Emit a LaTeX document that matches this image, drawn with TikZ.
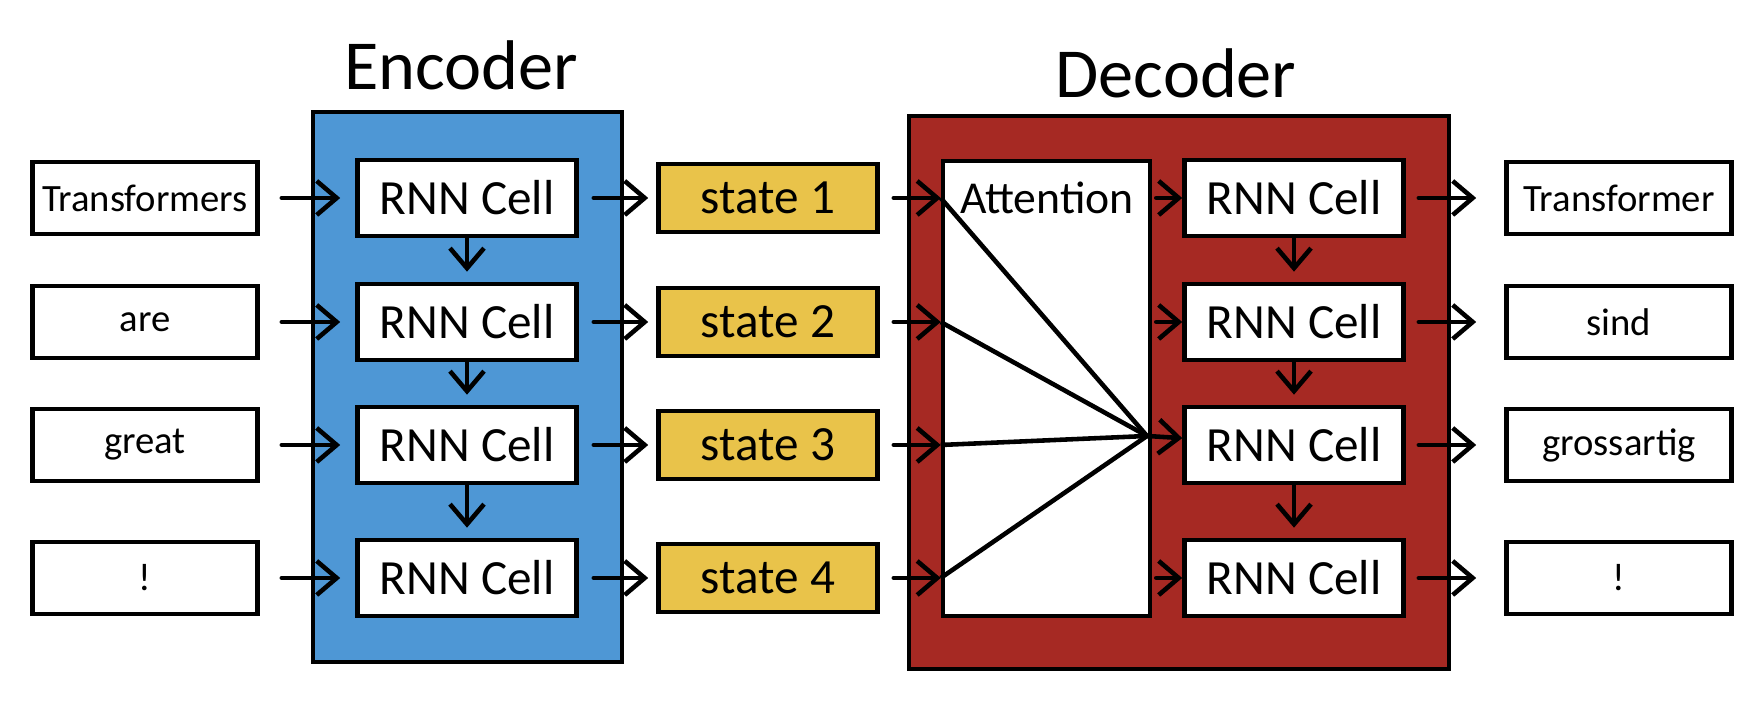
\documentclass[tikz,border=0pt]{standalone}
\usepackage{fontspec}
\setmainfont{Carlito}
\usetikzlibrary{arrows.meta,calc}

\definecolor{encblue}{HTML}{4E97D5}
\definecolor{decred}{HTML}{A62923}
\definecolor{stateyellow}{HTML}{E9C34A}

\begin{document}
\begin{tikzpicture}[line width=1.3pt,
  cell/.style={draw, fill=white, minimum width=2.19cm, minimum height=0.76cm, inner sep=0pt, font=\fontsize{14}{16}\selectfont},
  word/.style={draw, fill=white, minimum width=2.25cm, minimum height=0.72cm, inner sep=0pt, font=\fontsize{11}{13}\selectfont},
  statebox/.style={cell, fill=stateyellow, minimum height=0.68cm},
  title/.style={font=\fontsize{20}{24}\selectfont},
  arr/.style={-{Straight Barb[length=2mm,width=3.4mm]}, line cap=round}]
  \useasboundingbox (0,0) rectangle (17.64,7.2);
  % encoder and decoder blocks
  \node[draw, fill=encblue, minimum width=3.09cm, minimum height=5.5cm] (enc) at (4.675,3.33) {};
  \node[draw, fill=decred, minimum width=5.40cm, minimum height=5.53cm] (dec) at (11.79,3.275) {};
  \node[title] (enclabel) at (4.61,6.55) {Encoder};
  \node[title] (declabel) at (11.76,6.47) {Decoder};
  % attention box, all lines meet at (hub) on its right side
  \node[draw, fill=white, minimum width=2.07cm, minimum height=4.55cm] (att) at (10.465,3.315) {};
  \node[font=\fontsize{13}{15}\selectfont] (attlabel) at (10.47,5.22) {Attention};
  \coordinate (hub) at (11.47,2.84);
  % one row per token
  \foreach \i/\y/\w/\o in {1/5.22/Transformers/Transformer, 2/3.98/are/sind, 3/2.75/great/grossartig, 4/1.42/!/!} {
    \node[word] (in\i) at (1.45,\y) {\w};
    \node[cell] (ec\i) at (4.67,\y) {RNN Cell};
    \node[statebox] (st\i) at (7.68,\y) {state \i};
    \node[cell] (dc\i) at (12.94,\y) {RNN Cell};
    \node[word] (out\i) at (16.19,\y) {\o};
    \draw[arr, shorten <=0.22cm, shorten >=0.15cm] (in\i) -- (ec\i);
    \draw[arr, shorten <=0.15cm, shorten >=0.08cm] (ec\i) -- (st\i);
    \draw[arr, shorten <=0.14cm] (st\i) -- (st\i -| att.west);
    \draw (st\i -| att.west) -- (hub);
    \draw[arr, shorten <=0.13cm, shorten >=0.28cm] (dc\i) -- (out\i);
  }
  % attention to decoder cells
  \foreach \i in {1,2,4}
    \draw[arr, shorten <=0.04cm] (att.east |- dc\i) -- (dc\i);
  \draw[arr] (hub) -- (dc3);
  % recurrent links
  \foreach \a/\b in {1/2,2/3,3/4} {
    \draw[arr, shorten >=0.1cm] (ec\a) -- (ec\b);
    \draw[arr, shorten >=0.1cm] (dc\a) -- (dc\b);
  }
\end{tikzpicture}
\end{document}
